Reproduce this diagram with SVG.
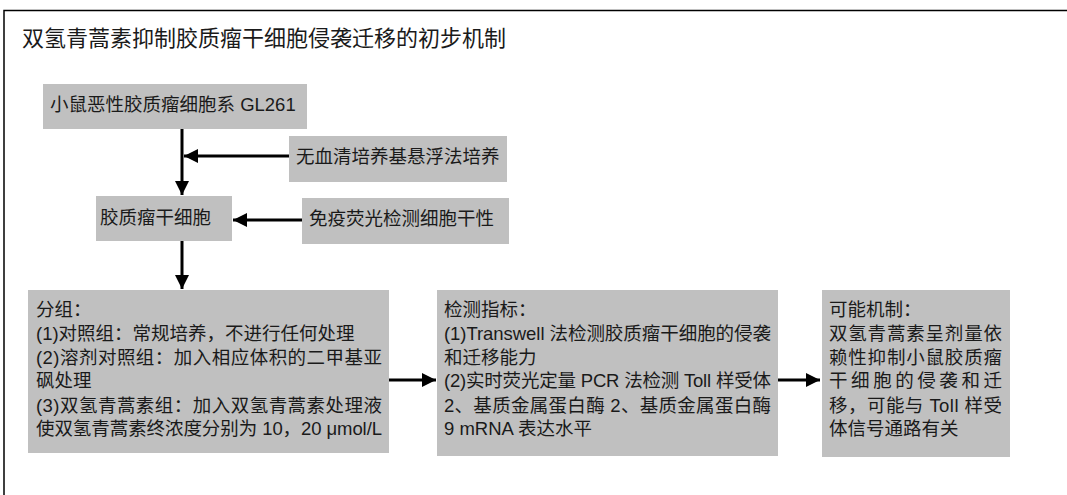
<svg xmlns="http://www.w3.org/2000/svg" width="1067" height="495" viewBox="0 0 1067 495">
<style>
.box{fill:#c0c0c0;stroke:none}
text{font-family:"Liberation Sans","Noto Sans CJK SC",sans-serif;fill:#1a1a1a;font-size:18.5px}
.title{font-size:22px}
.ln{stroke:#000;stroke-width:3;fill:none}
</style>
<defs>
<marker id="ah" viewBox="0 0 10 10" refX="10" refY="5" markerWidth="4.7" markerHeight="4.7" markerUnits="strokeWidth" orient="auto">
<path d="M0,0 L10,5 L0,10 Z" fill="#000"/>
</marker>
</defs>
<rect width="1067" height="495" fill="#fff"/>
<path d="M1067,10.5 H4 V495" stroke="#000" stroke-width="1.5" fill="none"/>
<text class="title" x="22" y="46">双氢青蒿素抑制胶质瘤干细胞侵袭迁移的初步机制</text>

<g id="connectors">
<line class="ln" x1="182" y1="129" x2="182" y2="195" marker-end="url(#ah)"/>
<line class="ln" x1="289" y1="156" x2="184" y2="156" marker-end="url(#ah)"/>
<line class="ln" x1="302" y1="220" x2="233" y2="220" marker-end="url(#ah)"/>
<line class="ln" x1="182" y1="241" x2="182" y2="289" marker-end="url(#ah)"/>
<line class="ln" x1="389" y1="380" x2="436" y2="380" marker-end="url(#ah)"/>
<line class="ln" x1="778" y1="380" x2="820" y2="380" marker-end="url(#ah)"/>
</g>

<g id="n1">
<rect class="box" x="43" y="84" width="264" height="45"/>
<text x="50" y="111">小鼠恶性胶质瘤细胞系 GL261</text>
</g>
<g id="n2">
<rect class="box" x="289" y="136" width="218" height="46"/>
<text x="296" y="163">无血清培养基悬浮法培养</text>
</g>
<g id="n3">
<rect class="box" x="96" y="196" width="136" height="45"/>
<text x="100" y="224">胶质瘤干细胞</text>
</g>
<g id="n4">
<rect class="box" x="302" y="198" width="207" height="46"/>
<text x="309" y="225">免疫荧光检测细胞干性</text>
</g>
<g id="n5">
<rect class="box" x="28" y="290" width="361" height="163"/>
<text x="36" y="316">分组：</text>
<text x="36" y="340">(1)对照组：常规培养，不进行任何处理</text>
<text x="36" y="364" textLength="346" lengthAdjust="spacing">(2)溶剂对照组：加入相应体积的二甲基亚</text>
<text x="36" y="387">砜处理</text>
<text x="36" y="412" textLength="346" lengthAdjust="spacing">(3)双氢青蒿素组：加入双氢青蒿素处理液</text>
<text x="36" y="435" textLength="346" lengthAdjust="spacing">使双氢青蒿素终浓度分别为 10，20 μmol/L</text>
</g>
<g id="n6">
<rect class="box" x="437" y="290" width="341" height="166"/>
<text x="444" y="316">检测指标：</text>
<text x="444" y="340" textLength="327" lengthAdjust="spacing">(1)Transwell 法检测胶质瘤干细胞的侵袭</text>
<text x="444" y="364">和迁移能力</text>
<text x="444" y="387" textLength="327" lengthAdjust="spacing">(2)实时荧光定量 PCR 法检测 Toll 样受体</text>
<text x="444" y="412" textLength="327" lengthAdjust="spacing">2、基质金属蛋白酶 2、基质金属蛋白酶</text>
<text x="444" y="435">9 mRNA 表达水平</text>
</g>
<g id="n7">
<rect class="box" x="822" y="290" width="188" height="167"/>
<text x="829" y="316">可能机制：</text>
<text x="829" y="340" textLength="173" lengthAdjust="spacing">双氢青蒿素呈剂量依</text>
<text x="829" y="364" textLength="173" lengthAdjust="spacing">赖性抑制小鼠胶质瘤</text>
<text x="829" y="387" textLength="173" lengthAdjust="spacing">干细胞的侵袭和迁</text>
<text x="829" y="412" textLength="173" lengthAdjust="spacing">移，可能与 Toll 样受</text>
<text x="829" y="435">体信号通路有关</text>
</g>
</svg>
